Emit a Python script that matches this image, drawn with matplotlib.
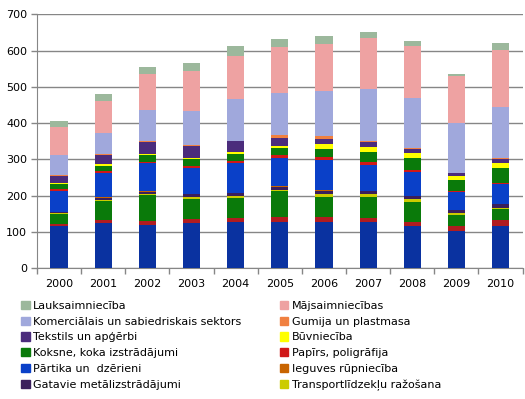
import matplotlib
matplotlib.use('Agg')
import matplotlib.pyplot as plt
import matplotlib.patches as patches
import numpy as np

# Dati
gadi = ['2000', '2001', '2002', '2003', '2004', '2005', '2006', '2007', '2008', '2009', '2010']

# sērijas no apakšas uz augšu (pirmās trīs leģendā neparādās)
nozares = ['Sērija A', 'Sērija B', 'Sērija C',
           'Transportlīdzekļu ražošana', 'Gatavie metālizstrādājumi', 'Ieguves rūpniecība',
           'Pārtika un  dzērieni', 'Papīrs, poligrāfija', 'Koksne, koka izstrādājumi',
           'Būvniecība', 'Tekstils un apģērbi', 'Gumija un plastmasa',
           'Komerciālais un sabiedriskais sektors', 'Mājsaimniecības', 'Lauksaimniecība']

serija_a = [117, 123, 120, 123, 127, 127, 127, 127, 116, 103, 116]
serija_b = [5, 9, 10, 12, 10, 15, 13, 11, 12, 12, 16]
serija_c = [27, 54, 71, 55, 56, 70, 57, 59, 54, 32, 31]
transports = [4, 3, 4, 6, 6, 3, 7, 7, 8, 4, 3]
metali = [1, 5, 6, 7, 8, 10, 9, 9, 8, 8, 10]
ieguve = [1, 2, 2, 1, 1, 2, 2, 1, 1, 2, 2]
partika = [59, 65, 76, 73, 82, 78, 83, 71, 67, 49, 53]
papirs = [4, 8, 3, 5, 5, 7, 9, 7, 4, 4, 3]
koksne = [14, 13, 20, 19, 20, 20, 21, 28, 33, 29, 42]
buvnieciba = [3, 4, 3, 4, 5, 6, 14, 14, 14, 12, 13]
tekstils = [20, 26, 32, 32, 30, 22, 15, 14, 11, 7, 11]
gumija = [3, 3, 3, 4, 2, 8, 7, 4, 2, 1, 3]
komercialais = [54, 58, 87, 93, 115, 116, 126, 143, 140, 138, 142]
majsaimn = [77, 88, 100, 111, 118, 125, 128, 139, 142, 130, 156]
lauksaimn = [17, 19, 19, 22, 27, 22, 22, 19, 14, 6, 19]

dati = [serija_a, serija_b, serija_c, transports, metali, ieguve, partika, papirs,
        koksne, buvnieciba, tekstils, gumija, komercialais, majsaimn, lauksaimn]

krasas = ['#0a32a0', '#b01c20', '#0a7a0a', '#cccc00', '#3a1f5c', '#c86400',
          '#0a40c8', '#d01818', '#0a7a0a', '#ffff00', '#4b2c7c', '#f08040',
          '#a0a8dc', '#eea2a2', '#9cb89c']

fig = plt.figure(figsize=(5.25, 3.99), dpi=100)
ax = fig.add_axes([0.0705, 0.3283, 0.925, 0.6354])

x = np.arange(len(gadi))
bottom = np.zeros(len(gadi))
for vert, kr in zip(dati, krasas):
    ax.bar(x, vert, 0.39, bottom=bottom, color=kr, linewidth=0, zorder=3)
    bottom += np.array(vert)

ax.set_xlim(-0.5, len(gadi) - 0.5)
ax.set_ylim(0, 700)
ax.set_yticks(range(0, 701, 100))
ax.set_xticks(x)
ax.set_xticklabels(gadi)
ax.set_xticks(np.arange(-0.5, len(gadi), 1), minor=True)
ax.tick_params(axis='x', which='major', length=0, pad=8, labelsize=8)
ax.tick_params(axis='x', which='minor', length=4, color='#868686', width=1)
ax.tick_params(axis='y', length=4, color='#868686', width=1, labelsize=8, pad=3)
ax.grid(axis='y', color='#868686', linewidth=1, zorder=0)
for s in ['top', 'right']:
    ax.spines[s].set_visible(False)
for s in ['left', 'bottom']:
    ax.spines[s].set_color('#868686')

# leģenda - rindu secībā kā oriģinālā
kreisa = [14, 12, 10, 8, 6, 4]
laba = [13, 11, 9, 7, 5, 3]
roki = [patches.Patch(color=krasas[i]) for i in kreisa + laba]
nosauk = [nozares[i] for i in kreisa + laba]
fig.legend(roki, nosauk, ncol=2, loc='upper left', bbox_to_anchor=(0.03, 0.26),
           frameon=False, fontsize=8, handlelength=0.75, handleheight=0.75,
           handletextpad=0.3, columnspacing=3.5, labelspacing=0.52, borderpad=0)

fig.savefig('out.png', dpi=100)
